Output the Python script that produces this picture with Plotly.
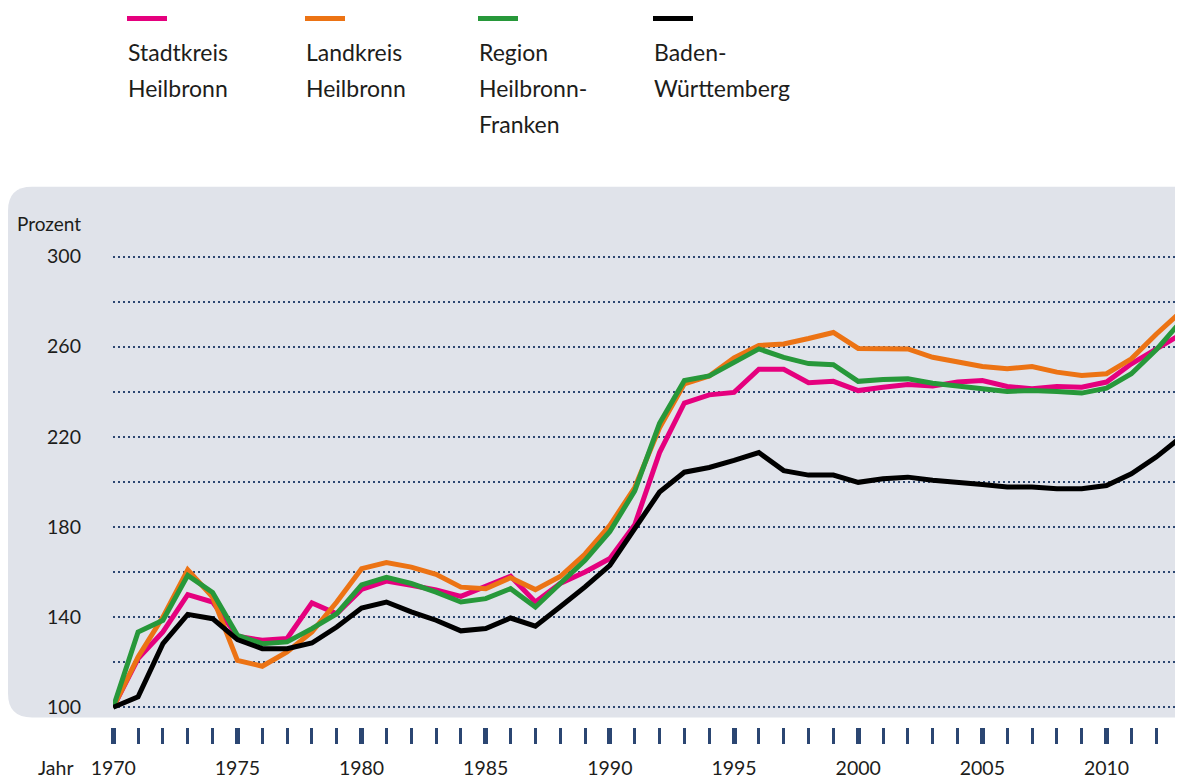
import plotly.graph_objects as go

# ------------------------------------------
# Daten
# ------------------------------------------

jahre = list(range(1970, 2014))

stadtkreis = [100, 121.6, 133.4, 150, 146.7, 131.5, 129.7, 130.5, 146.3, 141.5,
              152.3, 156, 154.1, 152, 149.2, 153.7, 158.1, 146.7, 154.9, 160,
              166, 181, 213, 235, 238.6, 239.7, 250, 250, 244, 244.6,
              240.5, 242, 243.2, 242.5, 244.3, 245, 242.3, 241.3, 242.3, 242,
              244.3, 252.4, 259, 265.5]

landkreis = [100, 122.3, 140, 161, 148.9, 120.8, 118.2, 124.5, 133.4, 146.7,
             161.5, 164.2, 162.2, 159, 153.3, 152.6, 157.5, 152.2, 158, 168,
             180.7, 197.5, 224, 243.5, 247, 255, 260.5, 261.2, 263.6, 266.3,
             259.2, 259.2, 259, 255.3, 253.3, 251.2, 250.2, 251.2, 248.7, 247.2,
             248, 254.6, 265.5, 275.5]

region = [100, 133.4, 138.6, 158.5, 150.9, 131.9, 128.2, 129, 134.9, 141.5,
          154.3, 157.6, 154.9, 151.1, 146.7, 148.2, 152.6, 144.5, 154.9, 165.2,
          178, 196, 226, 245, 247, 253, 259, 255.2, 252.5, 252,
          244.6, 245.4, 245.7, 243.8, 242.8, 241.3, 240.1, 240.6, 240.1, 239.4,
          241.6, 248, 258.6, 271.2]

bw = [100, 104.6, 128.2, 141.2, 139.3, 130, 126, 126, 128.5, 135.6,
      144, 146.7, 142.3, 138.6, 133.9, 134.9, 139.6, 136, 144.6, 153.4,
      163, 179.5, 195.5, 204.3, 206.4, 209.5, 213, 205, 203, 203,
      199.8, 201.4, 202.1, 200.7, 199.5, 198.8, 197.7, 197.7, 197, 197,
      198.4, 203.6, 211, 219.8]

namen = [["Stadtkreis", "Heilbronn"],
         ["Landkreis", "Heilbronn"],
         ["Region", "Heilbronn-", "Franken"],
         ["Baden-", "Württemberg"]]

y_ticks = [100, 120, 140, 160, 180, 200, 220, 240, 260, 280, 300]
y_labels = ["100", "", "140", "", "180", "", "220", "", "260", "", "300"]

farben = ["#e5007e", "#ec7314", "#27983a", "#000000"]
serien = [stadtkreis, landkreis, region, bw]

# ------------------------------------------
# Geometrie (Seitenpixel -> Papier), Seite hat 8px Rand
# ------------------------------------------

OFF = 8
W, H = 1183 - OFF, 778 - OFF
L, R = 113 - OFF, 0
T = 252.2 - OFF
B = 778 - 727.5
PW = W - L - R
PH = H - T - B


def px(x):
    return (x - OFF - L) / PW


def py(y):
    return (H - B - (y - OFF)) / PH


FONT = "Lato, Noto Sans, sans-serif"
TXT = "#1d1d1b"
NAVY = "#2b4672"

fig = go.Figure()

for werte, farbe, name in zip(serien, farben, namen):
    fig.add_trace(
        go.Scatter(
            x=jahre,
            y=werte,
            mode="lines",
            name=" ".join(name),
            line=dict(color=farbe, width=5),
            showlegend=False
        )
    )

# grauer Hintergrund mit runden Ecken links
r = 24
x0, y0, y1 = 8, 187, 718
pfad = (
    f"M {px(1200)},{py(y0)} L {px(x0 + r)},{py(y0)} "
    f"Q {px(x0)},{py(y0)} {px(x0)},{py(y0 + r)} "
    f"L {px(x0)},{py(y1 - r)} "
    f"Q {px(x0)},{py(y1)} {px(x0 + r)},{py(y1)} "
    f"L {px(1200)},{py(y1)} Z"
)
fig.add_shape(type="path", path=pfad, xref="paper", yref="paper",
              fillcolor="#e0e3ea", line=dict(width=0), layer="below")

# Legende oben
legende_x = [127, 305, 478, 653]
for lx, farbe, name in zip(legende_x, farben, namen):
    fig.add_shape(type="line", xref="paper", yref="paper",
                  x0=px(lx), x1=px(lx + 40), y0=py(18.5), y1=py(18.5),
                  line=dict(color=farbe, width=5))
    for i, zeile in enumerate(name):
        fig.add_annotation(x=px(lx - 1), y=py(52 + 36 * i), xref="paper", yref="paper",
                           text=zeile, showarrow=False, xanchor="left", yanchor="middle",
                           font=dict(family=FONT, size=23, color=TXT))

fig.add_annotation(x=px(83), y=py(224), xref="paper", yref="paper", text="Prozent",
                   showarrow=False, xanchor="right", yanchor="middle",
                   font=dict(family=FONT, size=19, color=TXT))
fig.add_annotation(x=px(76), y=py(768), xref="paper", yref="paper", text="Jahr",
                   showarrow=False, xanchor="right", yanchor="middle",
                   font=dict(family=FONT, size=19.5, color=TXT))

fig.update_layout(
    width=W,
    height=H,
    margin=dict(l=L, r=R, t=T, b=B, pad=0),
    paper_bgcolor="white",
    plot_bgcolor="rgba(0,0,0,0)",
    font=dict(family=FONT, size=19.5, color=TXT),
    showlegend=False
)

fig.update_xaxes(
    range=[1969.99, 2013.08],
    anchor="free",
    position=0,
    showgrid=False,
    zeroline=False,
    showline=False,
    tickmode="linear",
    tick0=1970,
    dtick=5,
    ticks="outside",
    ticklen=16,
    tickwidth=5,
    tickcolor=NAVY,
    ticklabelstandoff=8,
    minor=dict(dtick=1, tick0=1970, ticks="outside", ticklen=16,
               tickwidth=3, tickcolor=NAVY, showgrid=False)
)

# Unterkante der y-Achse bei Seitenpixel 714.5
fig.update_yaxes(
    range=[97, 302],
    domain=[(727.5 - 714.5) / PH, 1],
    tickvals=y_ticks,
    ticktext=y_labels,
    showgrid=True,
    gridcolor=NAVY,
    gridwidth=2,
    griddash="2px,3px",
    zeroline=False,
    showline=False,
    ticks="",
    ticklabelstandoff=31
)

fig.write_html("out.html")
